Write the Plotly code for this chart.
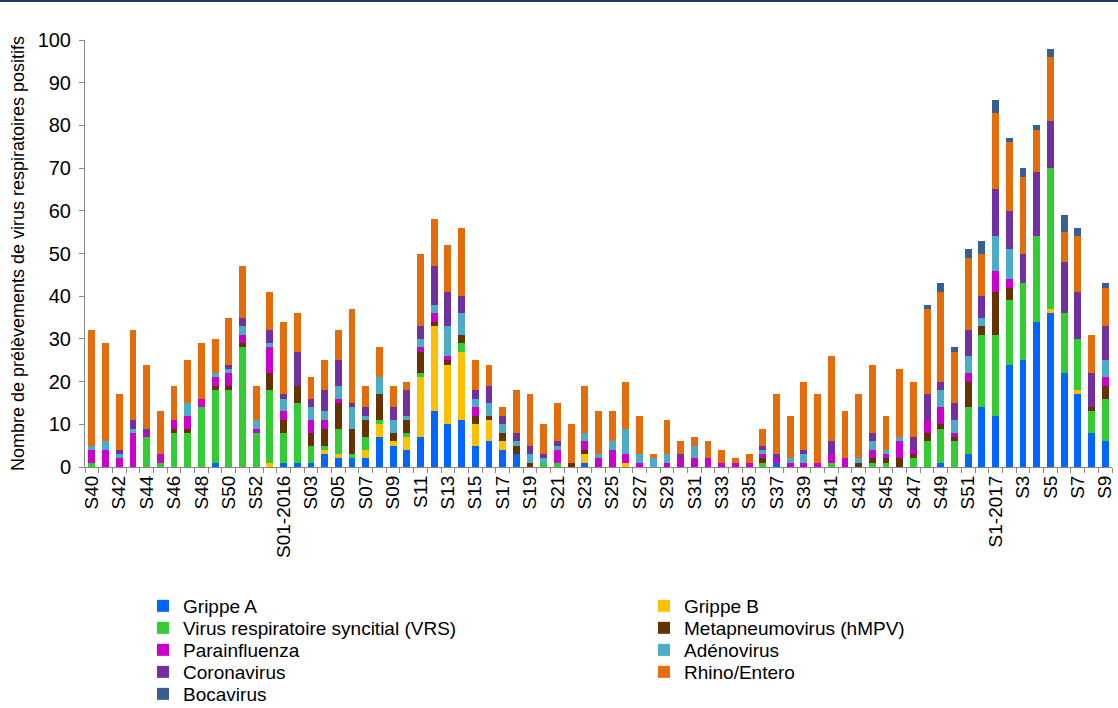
import plotly.graph_objects as go

# semaines S40-2015 -> S9-2017
semaines = [
    "S40", "S41", "S42", "S43", "S44", "S45", "S46", "S47", "S48", "S49", "S50", "S51", "S52", "S53",
    "S01-2016", "S02", "S03", "S04", "S05", "S06", "S07", "S08", "S09", "S10", "S11", "S12", "S13",
    "S14", "S15", "S16", "S17", "S18", "S19", "S20", "S21", "S22", "S23", "S24", "S25", "S26",
    "S27", "S28", "S29", "S30", "S31", "S32", "S33", "S34", "S35", "S36", "S37", "S38", "S39",
    "S40", "S41", "S42", "S43", "S44", "S45", "S46", "S47", "S48", "S49", "S50", "S51", "S52",
    "S1-2017", "S2", "S3", "S4", "S5", "S6", "S7", "S8", "S9",
]

grippe_a = [0, 0, 0, 0, 0, 0, 0, 0, 0, 1, 0, 0, 0, 0,
            1, 1, 1, 3, 2, 2, 2, 7, 5, 4, 7, 13, 10,
            11, 5, 6, 4, 3, 0, 0, 0, 0, 1, 0, 0, 0,
            0, 0, 0, 0, 0, 0, 0, 0, 0, 0, 1, 0, 0,
            0, 0, 0, 0, 0, 0, 0, 0, 0, 1, 0, 3, 14,
            12, 24, 25, 34, 36, 22, 17, 8, 6]
grippe_b = [0, 0, 0, 0, 0, 0, 0, 0, 0, 0, 0, 0, 0, 1,
            0, 0, 0, 1, 1, 0, 2, 3, 1, 3, 14, 20, 14,
            16, 5, 5, 2, 0, 0, 0, 0, 0, 2, 0, 0, 1,
            0, 0, 0, 0, 0, 0, 0, 0, 0, 0, 0, 0, 0,
            0, 0, 0, 0, 0, 0, 0, 0, 0, 0, 0, 0, 0,
            0, 0, 0, 0, 1, 0, 1, 0, 0]
vrs = [1, 0, 0, 0, 7, 1, 8, 8, 14, 17, 18, 28, 8, 17,
       7, 14, 4, 1, 6, 1, 3, 1, 0, 1, 1, 0, 0,
       2, 0, 0, 0, 0, 0, 1, 1, 0, 0, 0, 0, 0,
       0, 0, 0, 0, 0, 0, 0, 0, 0, 1, 0, 0, 0,
       0, 1, 0, 0, 1, 1, 0, 2, 6, 8, 6, 11, 17,
       19, 15, 18, 20, 33, 14, 12, 5, 10]
hmpv = [0, 0, 0, 0, 0, 0, 1, 1, 0, 1, 1, 1, 0, 4,
        3, 4, 3, 4, 6, 6, 4, 6, 2, 3, 5, 1, 1,
        2, 2, 1, 2, 2, 1, 0, 0, 1, 1, 0, 0, 0,
        0, 0, 0, 0, 0, 0, 0, 0, 0, 1, 0, 0, 0,
        0, 0, 0, 1, 1, 1, 2, 1, 2, 1, 1, 6, 2,
        10, 3, 0, 0, 0, 0, 0, 1, 3]
parainfluenza = [3, 4, 2, 8, 1, 2, 2, 3, 2, 2, 3, 2, 1, 6,
                 2, 0, 3, 2, 1, 0, 0, 0, 0, 0, 1, 2, 1,
                 0, 2, 0, 0, 0, 0, 0, 3, 0, 2, 2, 4, 2,
                 1, 0, 1, 2, 2, 2, 1, 1, 1, 1, 1, 1, 1,
                 1, 2, 2, 0, 2, 1, 4, 1, 3, 4, 1, 2, 0,
                 5, 2, 0, 0, 0, 0, 0, 0, 2]
adenovirus = [1, 2, 1, 1, 0, 0, 0, 3, 0, 1, 1, 2, 2, 1,
              3, 0, 3, 2, 3, 5, 1, 4, 3, 1, 2, 2, 7,
              5, 2, 3, 2, 1, 2, 1, 1, 0, 2, 1, 2, 6,
              2, 2, 2, 0, 3, 0, 0, 0, 0, 1, 0, 1, 2,
              0, 0, 0, 1, 2, 1, 1, 0, 0, 4, 3, 4, 2,
              8, 7, 0, 0, 0, 0, 0, 0, 4]
coronavirus = [0, 0, 1, 2, 1, 0, 0, 0, 0, 0, 1, 2, 0, 3,
               1, 8, 2, 5, 6, 1, 2, 0, 3, 6, 3, 9, 8,
               4, 2, 4, 2, 2, 2, 1, 1, 0, 0, 0, 0, 0,
               0, 0, 0, 1, 0, 0, 0, 0, 0, 1, 1, 0, 1,
               0, 3, 0, 0, 2, 0, 0, 3, 6, 2, 4, 6, 5,
               11, 9, 7, 15, 11, 12, 11, 8, 8]
rhino_entero = [27, 23, 13, 21, 15, 10, 8, 10, 13, 8, 11, 12, 8, 9,
                17, 9, 5, 7, 7, 22, 5, 7, 5, 2, 17, 11, 11,
                16, 7, 5, 2, 10, 12, 7, 9, 9, 11, 10, 7, 11,
                9, 1, 8, 3, 2, 4, 3, 1, 2, 4, 14, 10, 16,
                16, 20, 11, 15, 16, 8, 16, 13, 20, 21, 12, 17, 10,
                18, 16, 18, 10, 15, 7, 13, 9, 9]
bocavirus = [0, 0, 0, 0, 0, 0, 0, 0, 0, 0, 0, 0, 0, 0,
             0, 0, 0, 0, 0, 0, 0, 0, 0, 0, 0, 0, 0,
             0, 0, 0, 0, 0, 0, 0, 0, 0, 0, 0, 0, 0,
             0, 0, 0, 0, 0, 0, 0, 0, 0, 0, 0, 0, 0,
             0, 0, 0, 0, 0, 0, 0, 0, 1, 2, 1, 2, 3,
             3, 1, 2, 1, 2, 4, 2, 0, 1]

series = [
    ("Grippe A", grippe_a, "#0066FF"),
    ("Grippe B", grippe_b, "#FFC000"),
    ("Virus respiratoire syncitial (VRS)", vrs, "#33CC33"),
    ("Metapneumovirus (hMPV)", hmpv, "#663300"),
    ("Parainfluenza", parainfluenza, "#CC00CC"),
    ("Adénovirus", adenovirus, "#4BACC6"),
    ("Coronavirus", coronavirus, "#7030A0"),
    ("Rhino/Entero", rhino_entero, "#E46C0A"),
    ("Bocavirus", bocavirus, "#376092"),
]

FONT = "Liberation Sans, Arial, sans-serif"

# legend laid out as 2 columns x 5 rows, one small legend per entry
col_x = [0.0565, 0.5443]
row_y = [-0.3255, -0.3770, -0.4286, -0.4801, -0.5316]

x = list(range(len(semaines)))

fig = go.Figure()
legends = {}
for i, (name, values, color) in enumerate(series):
    leg_id = "legend" if i == 0 else "legend%d" % (i + 1)
    row, col = divmod(i, 2)
    legends[leg_id] = dict(
        x=col_x[col], xanchor="left",
        y=row_y[row], yanchor="middle",
        font=dict(size=19, family=FONT),
        bgcolor="rgba(0,0,0,0)",
        itemwidth=30,
        visible=True,
    )
    fig.add_trace(go.Bar(
        name=name,
        x=x,
        y=values,
        legend=leg_id,
        showlegend=True,
        customdata=semaines,
        hovertemplate="%{customdata}: %{y}<extra>" + name + "</extra>",
        marker=dict(color=color, line=dict(width=0)),
    ))

fig.update_layout(
    width=1118,
    height=708,
    showlegend=True,
    barmode="stack",
    bargap=0.5,
    plot_bgcolor="white",
    paper_bgcolor="white",
    font=dict(family=FONT, color="black"),
    margin=dict(l=85, r=6, t=40, b=241, autoexpand=False),
    shapes=[dict(
        type="line", xref="paper", yref="paper",
        x0=-0.1, x1=1.01, y0=1.0913, y1=1.0913,
        line=dict(color="#1F3864", width=2),
    )],
    **legends,
)

fig.update_yaxes(
    range=[0, 100],
    dtick=10,
    ticks="outside",
    ticklen=5,
    tickcolor="#888888",
    ticklabelstandoff=4,
    showline=True,
    linecolor="#888888",
    linewidth=1,
    showgrid=False,
    zeroline=False,
    tickfont=dict(size=20),
    title=dict(text="Nombre de prélèvements de virus respiratoires positifs",
               font=dict(size=18), standoff=8),
    automargin=False,
)

fig.update_xaxes(
    range=[-0.5, len(semaines) - 0.5],
    tickmode="array",
    tickvals=x[::2],
    ticktext=semaines[::2],
    tickangle=-90,
    ticks="",
    showline=True,
    linecolor="#888888",
    linewidth=1,
    showgrid=False,
    zeroline=False,
    tickfont=dict(size=19),
    minor=dict(ticks="outside", tickmode="linear", tick0=-0.5, dtick=1,
               ticklen=5, tickcolor="#888888", showgrid=False),
    automargin=False,
)

# page body has a default 8px margin, drop it so the figure fills the window
fig.write_html("out.html", config={"displayModeBar": False},
               post_script="document.body.style.margin='0';")
